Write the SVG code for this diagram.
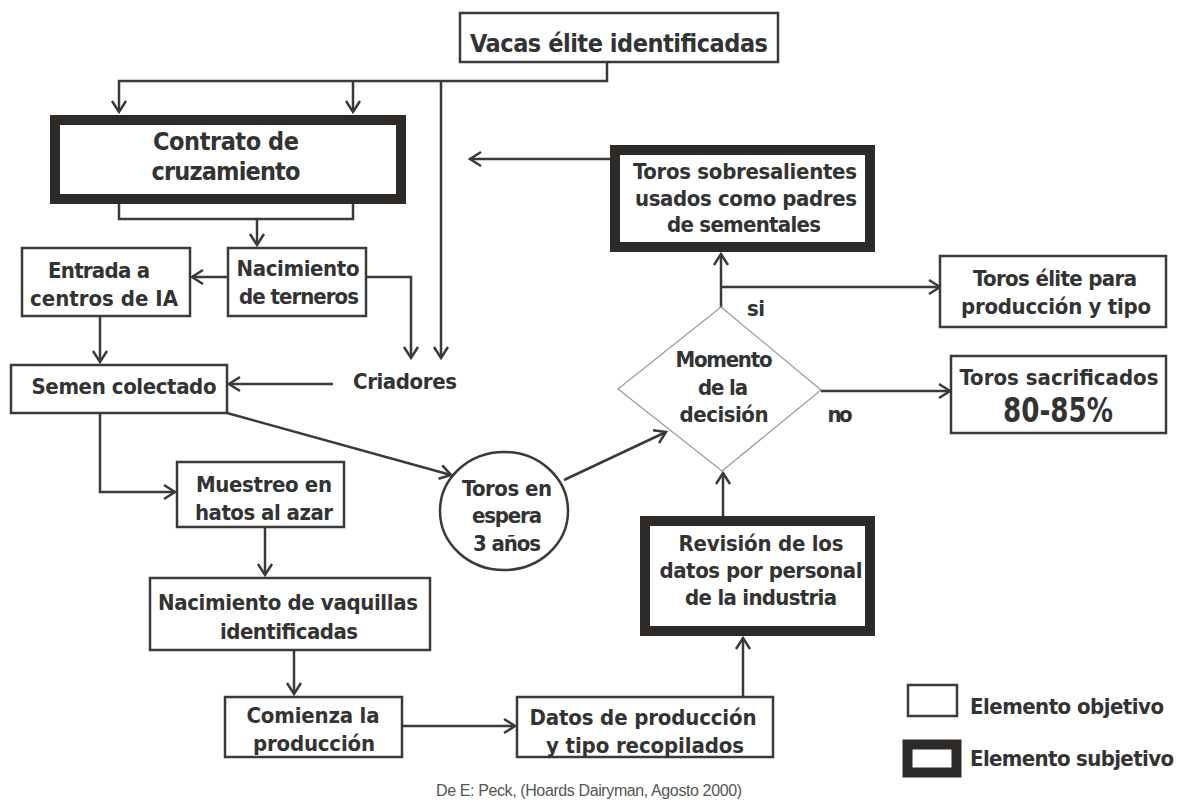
<svg xmlns="http://www.w3.org/2000/svg" width="1178" height="803" viewBox="0 0 1178 803">
<style>
.bx{fill:#fff;stroke:#3a3a3a;stroke-width:2.5}
.tk{fill:#fff;stroke:#2e2a28;stroke-width:10}
.t{font-family:"Liberation Sans Narrow","DejaVu Sans Condensed","Liberation Sans",Arial,sans-serif;font-weight:bold;font-size:22px;fill:#333;text-anchor:middle}
.big{font-size:25px}
.c{fill:none;stroke:#3a3a3a;stroke-width:2.5}
</style>
<defs>
<marker id="ah" markerUnits="userSpaceOnUse" markerWidth="18" markerHeight="18" refX="13" refY="9" orient="auto">
<path d="M2,2 L13,9 L2,16" fill="none" stroke="#3a3a3a" stroke-width="2.5"/>
</marker>
</defs>
<rect width="1178" height="803" fill="#fff"/>

<g id="connectors">
<path class="c" d="M607,62 V81 H119 V112" marker-end="url(#ah)"/>
<path class="c" d="M353,81 V112" marker-end="url(#ah)"/>
<path class="c" d="M441,81 V358" marker-end="url(#ah)"/>
<path class="c" d="M119,204 V219 H353 V204"/>
<path class="c" d="M257,219 V245" marker-end="url(#ah)"/>
<path class="c" d="M228,277 H192" marker-end="url(#ah)"/>
<path class="c" d="M366,277 H411 V358" marker-end="url(#ah)"/>
<path class="c" d="M333,384 H229" marker-end="url(#ah)"/>
<path class="c" d="M100,316 V362" marker-end="url(#ah)"/>
<path class="c" d="M100,413 V492 H175" marker-end="url(#ah)"/>
<path class="c" d="M227,413 L451,475" marker-end="url(#ah)"/>
<path class="c" d="M265,527 V575" marker-end="url(#ah)"/>
<path class="c" d="M294,650 V694" marker-end="url(#ah)"/>
<path class="c" d="M402,726 H515" marker-end="url(#ah)"/>
<path class="c" d="M743,697 V638" marker-end="url(#ah)"/>
<path class="c" d="M723,517 V473" marker-end="url(#ah)"/>
<path class="c" d="M564,480 L666,432" marker-end="url(#ah)"/>
<path class="c" d="M721,308 V254" marker-end="url(#ah)"/>
<path class="c" d="M721,287 H940" marker-end="url(#ah)"/>
<path class="c" d="M821,391 H950" marker-end="url(#ah)"/>
<path class="c" d="M610,159 H470" marker-end="url(#ah)"/>
</g>

<g id="vacas">
<rect class="bx" x="460" y="13" width="318" height="49"/>
<text class="t big" x="619" y="52" textLength="298" lengthAdjust="spacing">Vacas élite identificadas</text>
</g>

<g id="contrato">
<rect class="tk" x="55" y="120" width="346" height="79"/>
<text class="t big" x="226" y="150" textLength="146" lengthAdjust="spacing">Contrato de</text>
<text class="t big" x="226" y="180" textLength="149" lengthAdjust="spacing">cruzamiento</text>
</g>

<g id="nacimiento-terneros">
<rect class="bx" x="228" y="248" width="138" height="68"/>
<text class="t" x="298" y="276" textLength="123" lengthAdjust="spacing">Nacimiento</text>
<text class="t" x="299" y="304" textLength="120" lengthAdjust="spacing">de terneros</text>
</g>

<g id="entrada">
<rect class="bx" x="22" y="248" width="168" height="68"/>
<text class="t" x="99" y="278" textLength="102" lengthAdjust="spacing">Entrada a</text>
<text class="t" x="104" y="306" textLength="148" lengthAdjust="spacing">centros de IA</text>
</g>

<g id="criadores">
<text class="t" x="405" y="389" textLength="104" lengthAdjust="spacing">Criadores</text>
</g>

<g id="semen">
<rect class="bx" x="11" y="365" width="216" height="48"/>
<text class="t" x="124" y="394" textLength="185" lengthAdjust="spacing">Semen colectado</text>
</g>

<g id="muestreo">
<rect class="bx" x="177" y="462" width="167" height="65"/>
<text class="t" x="264" y="492" textLength="136" lengthAdjust="spacing">Muestreo en</text>
<text class="t" x="264" y="520" textLength="138" lengthAdjust="spacing">hatos al azar</text>
</g>

<g id="vaquillas">
<rect class="bx" x="150" y="578" width="280" height="72"/>
<text class="t" x="288" y="610" textLength="260" lengthAdjust="spacing">Nacimiento de vaquillas</text>
<text class="t" x="289" y="639" textLength="138" lengthAdjust="spacing">identificadas</text>
</g>

<g id="comienza">
<rect class="bx" x="225" y="697" width="177" height="60"/>
<text class="t" x="313" y="723" textLength="133" lengthAdjust="spacing">Comienza la</text>
<text class="t" x="314" y="751" textLength="122" lengthAdjust="spacing">producción</text>
</g>

<g id="datos">
<rect class="bx" x="517" y="697" width="256" height="60"/>
<text class="t" x="643" y="725" textLength="227" lengthAdjust="spacing">Datos de producción</text>
<text class="t" x="645" y="753" textLength="198" lengthAdjust="spacing">y tipo recopilados</text>
</g>

<g id="toros-espera">
<ellipse cx="504" cy="511" rx="64" ry="59" fill="#fff" stroke="#3a3a3a" stroke-width="2.5"/>
<text class="t" x="507" y="496" textLength="90" lengthAdjust="spacing">Toros en</text>
<text class="t" x="507" y="523" textLength="70" lengthAdjust="spacing">espera</text>
<text class="t" x="507" y="551" textLength="68" lengthAdjust="spacing">3 años</text>
</g>

<g id="revision">
<rect class="tk" x="645" y="521" width="225" height="110"/>
<text class="t" x="761" y="551" textLength="165" lengthAdjust="spacing">Revisión de los</text>
<text class="t" x="761" y="578" textLength="203" lengthAdjust="spacing">datos por personal</text>
<text class="t" x="761" y="605" textLength="152" lengthAdjust="spacing">de la industria</text>
</g>

<g id="decision">
<polygon points="721,307 821,390 722,471 618,389" fill="#fff" stroke="#999" stroke-width="1.2"/>
<text class="t" x="724" y="367" textLength="97" lengthAdjust="spacing">Momento</text>
<text class="t" x="723" y="395" textLength="50" lengthAdjust="spacing">de la</text>
<text class="t" x="724" y="422" textLength="89" lengthAdjust="spacing">decisión</text>
</g>

<g id="labels">
<text class="t" x="756" y="316" textLength="18" lengthAdjust="spacing">si</text>
<text class="t" x="840" y="422" textLength="25" lengthAdjust="spacing">no</text>
</g>

<g id="toros-sobresalientes">
<rect class="tk" x="615" y="150" width="255" height="97"/>
<text class="t" x="745" y="179" textLength="224" lengthAdjust="spacing">Toros sobresalientes</text>
<text class="t" x="746" y="206" textLength="222" lengthAdjust="spacing">usados como padres</text>
<text class="t" x="744" y="232" textLength="154" lengthAdjust="spacing">de sementales</text>
</g>

<g id="toros-elite">
<rect class="bx" x="940" y="256" width="226" height="71"/>
<text class="t" x="1055" y="286" textLength="164" lengthAdjust="spacing">Toros élite para</text>
<text class="t" x="1056" y="314" textLength="190" lengthAdjust="spacing">producción y tipo</text>
</g>

<g id="toros-sacrificados">
<rect class="bx" x="951" y="356" width="215" height="77"/>
<text class="t" x="1059" y="385" textLength="199" lengthAdjust="spacing">Toros sacrificados</text>
<text class="t" x="1058" y="422" style="font-size:33px" textLength="110" lengthAdjust="spacingAndGlyphs">80-85%</text>
</g>

<g id="legend">
<rect class="bx" x="908" y="685" width="49" height="31" stroke-width="2"/>
<text class="t" x="970" y="714" style="text-anchor:start" textLength="194" lengthAdjust="spacing">Elemento objetivo</text>
<rect class="tk" x="907.5" y="744.5" width="49" height="28" stroke-width="11"/>
<text class="t" x="970" y="766" style="text-anchor:start" textLength="204" lengthAdjust="spacing">Elemento subjetivo</text>
</g>

<g id="citation">
<text x="589" y="796" font-family="Liberation Sans Narrow, Liberation Sans, Arial, sans-serif" font-size="16" fill="#555" text-anchor="middle" textLength="306" lengthAdjust="spacing">De E: Peck,  (Hoards Dairyman, Agosto 2000)</text>
</g>
</svg>
